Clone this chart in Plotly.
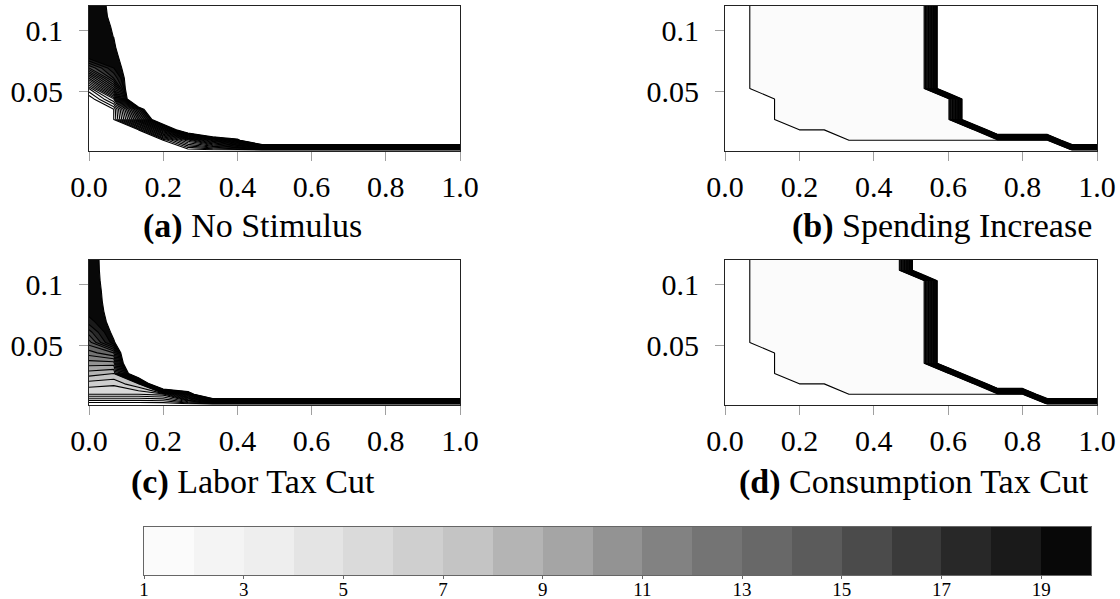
import plotly.graph_objects as go

# ---------------- data ----------------
x_grid = [0.0, 0.0667, 0.1333, 0.2, 0.2667, 0.3333, 0.4, 0.4667,
          0.5333, 0.6, 0.6667, 0.7333, 0.8, 0.8667, 0.9333, 1.0]
y_grid = [0.001, 0.0095, 0.018, 0.0265, 0.035, 0.0435, 0.052, 0.0605,
          0.069, 0.0775, 0.086, 0.0945, 0.103, 0.1115, 0.12]

# rows = y_grid (bottom -> top), columns = x_grid
z_no_stimulus = [
    [0, 0, 0, 0, 0, 0, 0, 0, 0, 0, 0, 0, 0, 0, 0, 0],
    [0, 0, 0, 1, 6.7, 12.5, 18.2, 35, 35, 35, 35, 35, 35, 35, 35, 35],
    [0, 0, 1, 13.4, 25.8, 35, 35, 35, 35, 35, 35, 35, 35, 35, 35, 35],
    [0, 1, 13.3, 25.5, 35, 35, 35, 35, 35, 35, 35, 35, 35, 35, 35, 35],
    [0, 1, 16.6, 32.2, 35, 35, 35, 35, 35, 35, 35, 35, 35, 35, 35, 35],
    [0, 5, 32.5, 35, 35, 35, 35, 35, 35, 35, 35, 35, 35, 35, 35, 35],
    [3, 12, 29, 35, 35, 35, 35, 35, 35, 35, 35, 35, 35, 35, 35, 35],
    [9, 17, 24, 35, 35, 35, 35, 35, 35, 35, 35, 35, 35, 35, 35, 35],
    [15, 19, 22.1, 35, 35, 35, 35, 35, 35, 35, 35, 35, 35, 35, 35, 35],
    [19.5, 19.7, 21.2, 35, 35, 35, 35, 35, 35, 35, 35, 35, 35, 35, 35, 35],
    [19.5, 19.6, 24.6, 35, 35, 35, 35, 35, 35, 35, 35, 35, 35, 35, 35, 35],
    [19.5, 20.01, 35, 35, 35, 35, 35, 35, 35, 35, 35, 35, 35, 35, 35, 35],
    [19.5, 20.07, 35, 35, 35, 35, 35, 35, 35, 35, 35, 35, 35, 35, 35, 35],
    [19.5, 20.17, 35, 35, 35, 35, 35, 35, 35, 35, 35, 35, 35, 35, 35, 35],
    [19.5, 20.22, 35, 35, 35, 35, 35, 35, 35, 35, 35, 35, 35, 35, 35, 35],
]

z_spending = [
    [0, 0, 0, 0, 0, 0, 0, 0, 0, 0, 0, 0, 0, 0, 0, 0],
    [0, 0, 0, 0, 0, 1, 1, 1, 1, 1, 1, 1, 1, 1, 35, 35],
    [0, 0, 0, 1, 1, 1, 1, 1, 1, 1, 1, 35, 35, 35, 35, 35],
    [0, 0, 1, 1, 1, 1, 1, 1, 1, 1, 35, 35, 35, 35, 35, 35],
    [0, 0, 1, 1, 1, 1, 1, 1, 1, 1, 35, 35, 35, 35, 35, 35],
    [0, 0, 1, 1, 1, 1, 1, 1, 1, 1, 35, 35, 35, 35, 35, 35],
    [0, 1, 1, 1, 1, 1, 1, 1, 1, 35, 35, 35, 35, 35, 35, 35],
    [0, 1, 1, 1, 1, 1, 1, 1, 1, 35, 35, 35, 35, 35, 35, 35],
    [0, 1, 1, 1, 1, 1, 1, 1, 1, 35, 35, 35, 35, 35, 35, 35],
    [0, 1, 1, 1, 1, 1, 1, 1, 1, 35, 35, 35, 35, 35, 35, 35],
    [0, 1, 1, 1, 1, 1, 1, 1, 1, 35, 35, 35, 35, 35, 35, 35],
    [0, 1, 1, 1, 1, 1, 1, 1, 1, 35, 35, 35, 35, 35, 35, 35],
    [0, 1, 1, 1, 1, 1, 1, 1, 1, 35, 35, 35, 35, 35, 35, 35],
    [0, 1, 1, 1, 1, 1, 1, 1, 1, 35, 35, 35, 35, 35, 35, 35],
    [0, 1, 1, 1, 1, 1, 1, 1, 1, 35, 35, 35, 35, 35, 35, 35],
]

z_labor_tax = [
    [0, 0, 0, 0, 0, 0, 0, 0, 0, 0, 0, 0, 0, 0, 0, 0],
    [5, 5, 5, 5.5, 15, 35, 35, 35, 35, 35, 35, 35, 35, 35, 35, 35],
    [6.5, 6.2, 8, 35, 35, 35, 35, 35, 35, 35, 35, 35, 35, 35, 35, 35],
    [8.5, 8, 28, 35, 35, 35, 35, 35, 35, 35, 35, 35, 35, 35, 35, 35],
    [10.5, 10.5, 35, 35, 35, 35, 35, 35, 35, 35, 35, 35, 35, 35, 35, 35],
    [12.5, 14, 35, 35, 35, 35, 35, 35, 35, 35, 35, 35, 35, 35, 35, 35],
    [14.5, 19.74, 25, 35, 35, 35, 35, 35, 35, 35, 35, 35, 35, 35, 35, 35],
    [16.5, 20.52, 35, 35, 35, 35, 35, 35, 35, 35, 35, 35, 35, 35, 35, 35],
    [18.5, 20.63, 35, 35, 35, 35, 35, 35, 35, 35, 35, 35, 35, 35, 35, 35],
    [19.5, 20.33, 35, 35, 35, 35, 35, 35, 35, 35, 35, 35, 35, 35, 35, 35],
    [19.5, 20.43, 35, 35, 35, 35, 35, 35, 35, 35, 35, 35, 35, 35, 35, 35],
    [19.5, 20.5, 35, 35, 35, 35, 35, 35, 35, 35, 35, 35, 35, 35, 35, 35],
    [19.5, 20.61, 35, 35, 35, 35, 35, 35, 35, 35, 35, 35, 35, 35, 35, 35],
    [19.5, 20.69, 35, 35, 35, 35, 35, 35, 35, 35, 35, 35, 35, 35, 35, 35],
    [19.5, 20.73, 35, 35, 35, 35, 35, 35, 35, 35, 35, 35, 35, 35, 35, 35],
]

z_consumption_tax = [
    [0, 0, 0, 0, 0, 0, 0, 0, 0, 0, 0, 0, 0, 0, 0, 0],
    [0, 0, 0, 0, 0, 1, 1, 1, 1, 1, 1, 1, 1, 35, 35, 35],
    [0, 0, 0, 1, 1, 1, 1, 1, 1, 1, 1, 35, 35, 35, 35, 35],
    [0, 0, 1, 1, 1, 1, 1, 1, 1, 1, 35, 35, 35, 35, 35, 35],
    [0, 0, 1, 1, 1, 1, 1, 1, 1, 35, 35, 35, 35, 35, 35, 35],
    [0, 0, 1, 1, 1, 1, 1, 1, 1, 35, 35, 35, 35, 35, 35, 35],
    [0, 1, 1, 1, 1, 1, 1, 1, 1, 35, 35, 35, 35, 35, 35, 35],
    [0, 1, 1, 1, 1, 1, 1, 1, 1, 35, 35, 35, 35, 35, 35, 35],
    [0, 1, 1, 1, 1, 1, 1, 1, 1, 35, 35, 35, 35, 35, 35, 35],
    [0, 1, 1, 1, 1, 1, 1, 1, 1, 35, 35, 35, 35, 35, 35, 35],
    [0, 1, 1, 1, 1, 1, 1, 1, 1, 35, 35, 35, 35, 35, 35, 35],
    [0, 1, 1, 1, 1, 1, 1, 1, 1, 35, 35, 35, 35, 35, 35, 35],
    [0, 1, 1, 1, 1, 1, 1, 1, 1, 35, 35, 35, 35, 35, 35, 35],
    [0, 1, 1, 1, 1, 1, 1, 1, 35, 35, 35, 35, 35, 35, 35, 35],
    [0, 1, 1, 1, 1, 1, 1, 1, 35, 35, 35, 35, 35, 35, 35, 35],
]

panel_titles = ["No Stimulus", "Spending Increase", "Labor Tax Cut", "Consumption Tax Cut"]
panel_letters = ["(a)", "(b)", "(c)", "(d)"]

x_tick_vals = [0.0, 0.2, 0.4, 0.6, 0.8, 1.0]
x_tick_text = ["0.0", "0.2", "0.4", "0.6", "0.8", "1.0"]
y_tick_vals = [0.05, 0.1]
y_tick_text = ["0.05", "0.1"]

# colour bands for levels 1..20 (19 bands)
band_colors = ["#fbfbfb", "#f4f4f4", "#eeeeee", "#e4e4e4", "#dadada", "#cfcfcf",
               "#c4c4c4", "#b4b4b4", "#a5a5a5", "#939393", "#828282", "#747474",
               "#686868", "#5b5b5b", "#4b4b4b", "#3a3a3a", "#282828", "#1a1a1a",
               "#080808"]
cb_edges = [1, 2, 3, 4, 5, 6, 7, 8, 9, 10, 11, 12, 13, 14, 15, 16, 17, 18, 19, 20]
cb_levels = [1, 2, 3, 4, 5, 6, 7, 8, 9, 10, 11, 12, 13, 14, 15, 16, 17, 18, 19]
cb_tick_vals = [1, 3, 5, 7, 9, 11, 13, 15, 17, 19]

# ---------------- figure ----------------
W, H = 1120, 599
FONT = "Liberation Serif"

n_b = len(band_colors)
contour_cs = [[0.0, "#ffffff"]]
for k, c in enumerate(band_colors):
    contour_cs.append([(k + 1) / (n_b + 1), c])
contour_cs.append([1.0, "#ffffff"])

heat_cs = []
for k, c in enumerate(band_colors):
    heat_cs.append([k / n_b, c])
    heat_cs.append([(k + 1) / n_b, c])

fig = go.Figure()
panels = [z_no_stimulus, z_spending, z_labor_tax, z_consumption_tax]
for idx, z in enumerate(panels):
    ax = "" if idx == 0 else str(idx + 1)
    fig.add_trace(go.Contour(
        x=x_grid, y=y_grid, z=z,
        autocontour=False,
        contours=dict(start=0.999, end=19.999, size=1, coloring="fill", showlines=True),
        line=dict(color="black", width=1.1, smoothing=0),
        colorscale=contour_cs, showscale=False, hoverinfo="skip",
        xaxis="x" + ax, yaxis="y" + ax,
    ))

fig.add_trace(go.Heatmap(
    x=cb_edges, y=[0, 1], z=[cb_levels],
    colorscale=heat_cs, zmin=0.5, zmax=19.5, showscale=False, hoverinfo="skip",
    xaxis="x5", yaxis="y5",
))

def px_x(p):
    return p / W

def px_y(p):
    return 1 - p / H

left_dom = [px_x(89), px_x(460)]
right_dom = [px_x(725), px_x(1097)]
top_dom = [px_y(150.5), px_y(6)]
bot_dom = [px_y(404.5), px_y(260)]
doms = [(left_dom, top_dom), (right_dom, top_dom), (left_dom, bot_dom), (right_dom, bot_dom)]

layout = dict(
    width=W, height=H,
    margin=dict(l=0, r=0, t=0, b=0),
    paper_bgcolor="white", plot_bgcolor="white",
    showlegend=False,
    font=dict(family=FONT, color="black"),
)

for idx, (xd, yd) in enumerate(doms):
    s = "" if idx == 0 else str(idx + 1)
    layout["xaxis" + s] = dict(
        domain=xd, range=[0, 1], anchor="y" + s, automargin=False,
        tickvals=x_tick_vals, ticktext=x_tick_text,
        ticks="outside", ticklen=9, tickcolor="#a0a0a0", tickwidth=1,
        showline=True, mirror=True, linecolor="#222222", linewidth=1,
        showgrid=False, zeroline=False,
        tickfont=dict(family=FONT, size=30, color="black"),
    )
    layout["yaxis" + s] = dict(
        domain=yd, range=[0.001, 0.12], anchor="x" + s, automargin=False,
        tickvals=y_tick_vals, ticktext=y_tick_text,
        ticks="outside", ticklen=9, tickcolor="#a0a0a0", tickwidth=1,
        ticklabelstandoff=10,
        showline=True, mirror=True, linecolor="#222222", linewidth=1,
        showgrid=False, zeroline=False,
        tickfont=dict(family=FONT, size=30, color="black"),
    )

layout["xaxis5"] = dict(
    domain=[px_x(144), px_x(1091)], range=[1, 20], anchor="y5", automargin=False,
    tickvals=cb_tick_vals, ticktext=[str(v) for v in cb_tick_vals],
    ticks="outside", ticklen=3, tickcolor="#666666",
    ticklabelstandoff=-6,
    showline=True, mirror=True, linecolor="#666666", linewidth=1,
    showgrid=False, zeroline=False,
    tickfont=dict(family=FONT, size=19, color="black"),
)
layout["yaxis5"] = dict(
    domain=[px_y(575), px_y(527)], range=[0, 1], anchor="x5", automargin=False,
    showticklabels=False, ticks="",
    showline=True, mirror=True, linecolor="#666666", linewidth=1,
    showgrid=False, zeroline=False,
)

caption_pos = [(252, 226), (942, 226), (253, 482), (914, 482)]
annotations = []
for (cx, cy), letter, title in zip(caption_pos, panel_letters, panel_titles):
    annotations.append(dict(
        x=px_x(cx), y=px_y(cy), xref="paper", yref="paper",
        xanchor="center", yanchor="middle", showarrow=False,
        text="<b>" + letter + "</b> " + title,
        font=dict(family=FONT, size=34, color="black"),
    ))
layout["annotations"] = annotations

fig.update_layout(**layout)
fig.write_html("out.html", config={"displayModeBar": False},
               post_script="document.body.style.margin='0px';")
